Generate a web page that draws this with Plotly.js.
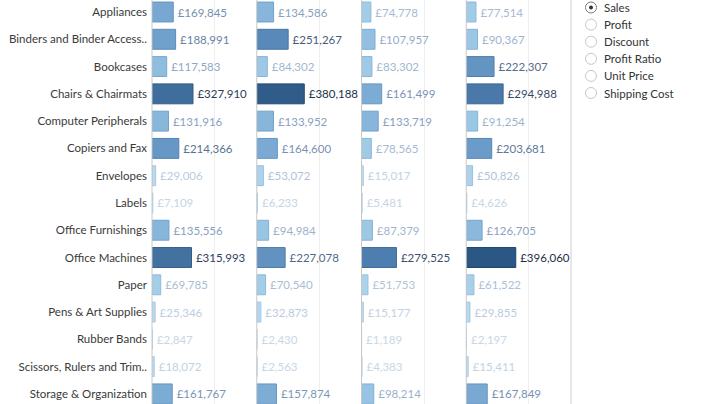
<!DOCTYPE html>
<html>
<head>
<meta charset="utf-8">
<script src="https://cdn.plot.ly/plotly-3.0.1.min.js"></script>
<style>html,body{margin:0;padding:0;background:#fff;}#chart{width:720px;height:404px;}</style>
</head>
<body>
<div id="chart"></div>
<script>
const categories = ["Appliances","Binders and Binder Access..","Bookcases","Chairs & Chairmats","Computer Peripherals","Copiers and Fax","Envelopes","Labels","Office Furnishings","Office Machines","Paper","Pens & Art Supplies","Rubber Bands","Scissors, Rulers and Trim..","Storage & Organization"];
const sales1 = [169845,188991,117583,327910,131916,214366,29006,7109,135556,315993,69785,25346,2847,18072,161767];
const sales2 = [134586,251267,84302,380188,133952,164600,53072,6233,94984,227078,70540,32873,2430,2563,157874];
const sales3 = [74778,107957,83302,161499,133719,78565,15017,5481,87379,279525,51753,15177,1189,4383,98214];
const sales4 = [77514,90367,222307,294988,91254,203681,50826,4626,126705,396060,61522,29855,2197,15411,167849];
const measures = ["Sales","Profit","Discount","Profit Ratio","Unit Price","Shipping Cost"];

const allVals = sales1.concat(sales2, sales3, sales4);
const vmin = Math.min.apply(null, allVals), vmax = Math.max.apply(null, allVals);

function hex(c){return [parseInt(c.slice(1,3),16),parseInt(c.slice(3,5),16),parseInt(c.slice(5,7),16)];}
function interp(stops, t){
  t=Math.max(0,Math.min(1,t));
  for(let i=1;i<stops.length;i++){
    if(t<=stops[i][0]){
      const a=stops[i-1], b=stops[i];
      const f=(t-a[0])/(b[0]-a[0]);
      const ca=hex(a[1]), cb=hex(b[1]);
      return 'rgb('+ca.map((v,k)=>Math.round(v+(cb[k]-v)*f)).join(',')+')';
    }
  }
  return stops[stops.length-1][1];
}
const fillStops=[[0,'#c6e1f2'],[0.2,'#9fcbe7'],[0.45,'#74a5d0'],[0.7,'#4f7fb0'],[1,'#2a5783']];
const lineStops=[[0,'#b3d2ea'],[0.2,'#88b6db'],[0.45,'#5e8fbf'],[0.7,'#3d6b9c'],[1,'#1c4470']];
const textStops=[[0,'#c9d7e6'],[0.2,'#a3b9d2'],[0.4,'#7b96b8'],[0.6,'#4c6180'],[0.8,'#2e3f5a'],[1,'#1f2d45']];
function norm(v){return (v-vmin)/(vmax-vmin);}

const FONT='Lato, sans-serif';
const series=[sales1,sales2,sales3,sales4];
const traces=series.map((vals,i)=>({
  type:'bar', orientation:'h',
  y:categories, x:vals,
  xaxis: i===0?'x':'x'+(i+1), yaxis:'y',
  marker:{color:vals.map(v=>interp(fillStops,norm(v))), line:{color:vals.map(v=>interp(lineStops,norm(v))),width:1}},
  texttemplate:'\u2009£%{x:,.0f}', textposition:'outside', cliponaxis:false, constraintext:'none',
  textfont:{family:FONT, size:11.5, color:vals.map(v=>interp(textStops,norm(v)))},
  hoverinfo:'none', showlegend:false
}));

const L=152, R=571, T=0, B=404, W=R-L, H=B-T;
function px(x){return (x-L)/W;}
function py(y){return 1-(y-T)/H;}

const layout={
  width:720, height:404,
  margin:{l:L, r:720-R, t:T, b:404-B},
  paper_bgcolor:'#fff', plot_bgcolor:'#fff',
  font:{family:FONT, size:12, color:'#333'},
  bargap:0.27,
  yaxis:{type:'category', range:[14.37,-0.44], showgrid:false, zeroline:false, ticks:'', showline:false,
         tickfont:{family:FONT, size:11.5, color:'#3a3a3a'}, ticklabelstandoff:4},
  shapes:[], annotations:[]
};
for(let i=0;i<4;i++){
  const key = i===0?'xaxis':'xaxis'+(i+1);
  layout[key]={domain:[i/4,(i+1)/4], range:[0,838000], showticklabels:false, ticks:'',
    showgrid:true, tickvals:[500000], gridcolor:'#eeeeee', gridwidth:1, zeroline:false, showline:false, anchor:'y', fixedrange:true};
  layout.shapes.push({type:'line', xref:'paper', yref:'paper', x0:i/4, x1:i/4, y0:0, y1:1, line:{color:'#c8c8c8', width:1}});
}
layout.shapes.push({type:'line', xref:'paper', yref:'paper', x0:1, x1:1, y0:0, y1:1, line:{color:'#d0d0d0', width:1}});

measures.forEach((m,i)=>{
  const cy = 7.5 + i*17.1;
  const cx = 591;
  const r = 5.5;
  layout.shapes.push({type:'circle', xref:'paper', yref:'paper', x0:px(cx-r), x1:px(cx+r), y0:py(cy+r), y1:py(cy-r),
    line:{color: i===0?'#7a7a7a':'#c8c8c8', width:1}, fillcolor:'#fff'});
  if(i===0){
    layout.shapes.push({type:'circle', xref:'paper', yref:'paper', x0:px(cx-2), x1:px(cx+2), y0:py(cy+2), y1:py(cy-2),
      line:{color:'#333', width:0}, fillcolor:'#333'});
  }
  layout.annotations.push({xref:'paper', yref:'paper', x:px(602), y:py(cy), xanchor:'left', yanchor:'middle',
    text:m, showarrow:false, font:{family:FONT, size:11.5, color:'#333'}});
});

Plotly.newPlot('chart', traces, layout, {displayModeBar:false, staticPlot:true});
</script>
</body>
</html>
